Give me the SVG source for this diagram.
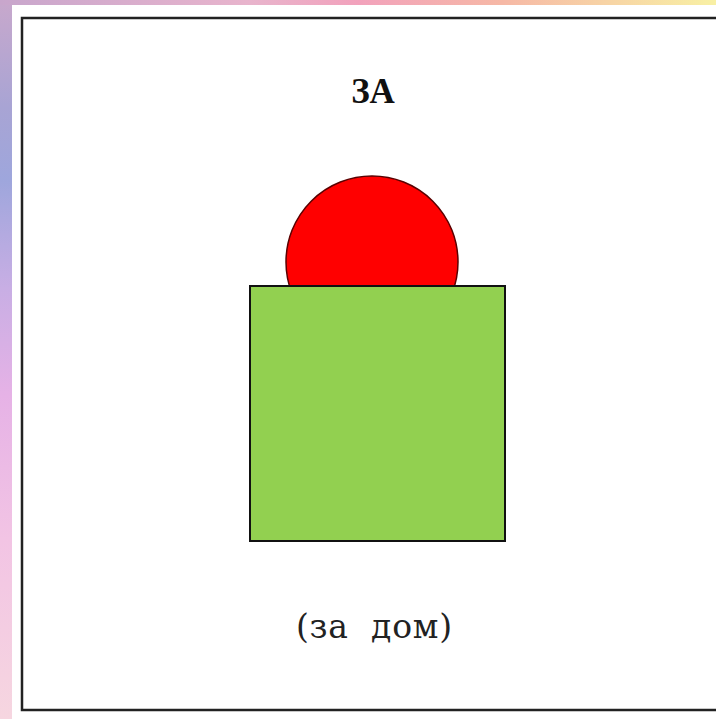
<svg xmlns="http://www.w3.org/2000/svg" width="716" height="719" viewBox="0 0 716 719">
<defs>
<linearGradient id="topg" x1="0" y1="0" x2="1" y2="0">
<stop offset="0" stop-color="#c8a6cc"/>
<stop offset="0.35" stop-color="#e8b4cc"/>
<stop offset="0.5" stop-color="#f2a2bc"/>
<stop offset="0.7" stop-color="#f6b8a6"/>
<stop offset="1" stop-color="#f8f0a4"/>
</linearGradient>
<linearGradient id="leftg" x1="0" y1="0" x2="0" y2="1">
<stop offset="0" stop-color="#c8a8cc"/>
<stop offset="0.15" stop-color="#a8a4d4"/>
<stop offset="0.25" stop-color="#9ea6dc"/>
<stop offset="0.4" stop-color="#c8aee4"/>
<stop offset="0.55" stop-color="#e6b2e6"/>
<stop offset="0.75" stop-color="#f2c4e4"/>
<stop offset="1" stop-color="#f6d6e0"/>
</linearGradient>
<style>
.title{font-family:"Liberation Serif",serif;font-weight:bold;font-size:35px;fill:#111}
.label{font-family:"DejaVu Serif","Liberation Serif",serif;font-size:33px;fill:#222}
</style>
</defs>
<rect x="0" y="0" width="716" height="719" fill="url(#leftg)"/>
<rect x="0" y="0" width="716" height="5" fill="url(#topg)"/>
<rect x="12" y="5" width="704" height="714" fill="#ffffff"/>
<rect x="22" y="18" width="720" height="692" fill="none" stroke="#222" stroke-width="2.5"/>
<text class="title" x="373" y="103" text-anchor="middle">ЗА</text>
<g id="sun">
<circle cx="372" cy="262" r="86" fill="#ff0000" stroke="#5a0000" stroke-width="1.5"/>
</g>
<g id="house">
<rect x="250" y="286" width="255" height="255" fill="#92d050" stroke="#111" stroke-width="2"/>
</g>
<g id="connectors"/>
<text class="label" x="296" y="638" textLength="156" lengthAdjust="spacing" xml:space="preserve">(за  дом)</text>
</svg>
